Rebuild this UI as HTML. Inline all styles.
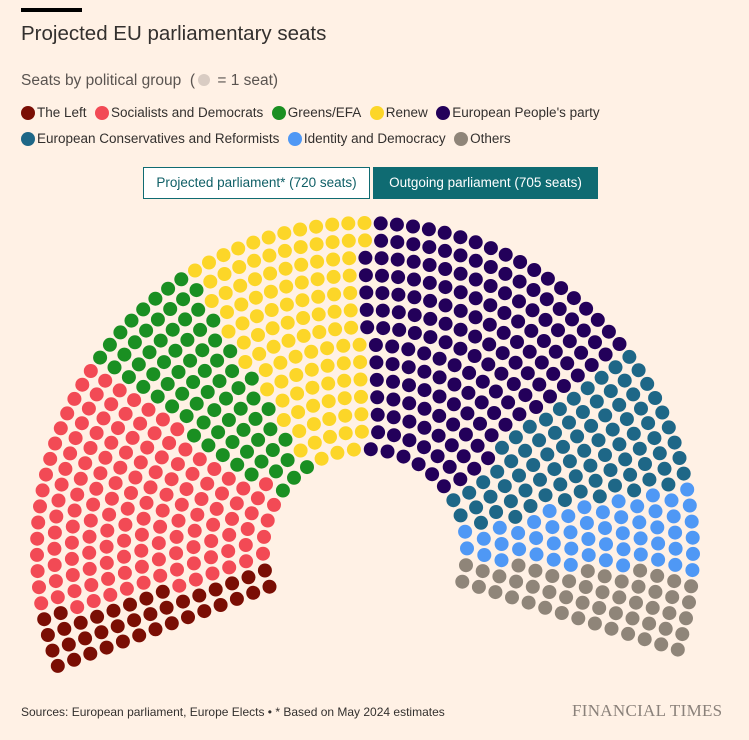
<!DOCTYPE html>
<html><head><meta charset="utf-8">
<style>
body{margin:0;background:#fff1e5;font-family:"Liberation Sans",sans-serif;}
#wrap{position:relative;width:749px;height:740px;overflow:hidden;background:#fff1e5;}
.abs{position:absolute;white-space:nowrap;}
.leg{font-size:13.5px;color:#33302e;display:inline-flex;align-items:center;margin-right:4px;}
.sw{width:14px;height:14px;border-radius:50%;display:inline-block;margin-right:2px;}
</style></head><body>
<div id="wrap">
<div class="abs" style="left:21px;top:8px;width:61px;height:4px;background:#000"></div>
<div class="abs" style="left:21px;top:22px;font-size:20.5px;color:#33302e">Projected EU parliamentary seats</div>
<div class="abs" style="left:21px;top:72px;font-size:15.5px;color:#5a5450">Seats by political group &nbsp;(<span style="display:inline-block;width:12px;height:12px;border-radius:50%;background:#d9ccc3;vertical-align:-1px;margin:0 3px"></span> = 1 seat)</div>
<div class="abs" style="left:21px;top:105px">
<span class="leg"><span class="sw" style="background:#7a0e04"></span>The Left</span>
<span class="leg"><span class="sw" style="background:#f24a55"></span>Socialists and Democrats</span>
<span class="leg"><span class="sw" style="background:#1a8f22"></span>Greens/EFA</span>
<span class="leg"><span class="sw" style="background:#fcd628"></span>Renew</span>
<span class="leg"><span class="sw" style="background:#23005a"></span>European People's party</span>
</div>
<div class="abs" style="left:21px;top:131px">
<span class="leg"><span class="sw" style="background:#1e6787"></span>European Conservatives and Reformists</span>
<span class="leg"><span class="sw" style="background:#4f98f5"></span>Identity and Democracy</span>
<span class="leg"><span class="sw" style="background:#8f8579"></span>Others</span>
</div>
<div class="abs" style="left:143px;top:167px;width:225px;height:30px;border:1px solid #0f6b72;background:#fff;color:#0f5f66;font-size:13.5px;line-height:30px;text-align:center">Projected parliament* (720 seats)</div>
<div class="abs" style="left:373px;top:167px;width:225px;height:32px;background:#0f6b72;color:#fff;font-size:13.5px;line-height:32px;text-align:center">Outgoing parliament (705 seats)</div>
<svg id="chart" class="abs" style="left:0;top:0" width="749" height="740"></svg>
<div class="abs" style="left:21px;top:705px;font-size:12px;color:#33302e">Sources: European parliament, Europe Elects • * Based on May 2024 estimates</div>
<div class="abs" style="left:572px;top:701px;font-family:'Liberation Serif',serif;font-size:17px;color:#8a817a;letter-spacing:0.3px">FINANCIAL TIMES</div>
</div>
<script>
const parties = ["The Left","Socialists and Democrats","Greens/EFA","Renew","European People's party","European Conservatives and Reformists","Identity and Democracy","Others"];
const seats = [38,145,76,106,170,82,53,50];
const colors = ["#7a0e04","#f24a55","#1a8f22","#fcd628","#23005a","#1e6787","#4f98f5","#8f8579"];

const cx=365, cy=551, rIn=102, rOut=328, nRows=14;
const a0=(200.5)*Math.PI/180, a1=(-17.5)*Math.PI/180;
const total=seats.reduce((a,b)=>a+b,0);
const svg=document.getElementById('chart');
const NS='http://www.w3.org/2000/svg';
const radii=[];for(let i=0;i<nRows;i++)radii.push(rIn+(rOut-rIn)*i/(nRows-1));
const sumR=radii.reduce((a,b)=>a+b,0);
let counts=radii.map(r=>Math.round(total*r/sumR));
let diff=total-counts.reduce((a,b)=>a+b,0);
for(let i=nRows-1;diff!==0;i=(i-1+nRows)%nRows){counts[i]+=diff>0?1:-1;diff+=diff>0?-1:1;}
const pts=[];
radii.forEach((r,i)=>{const n=counts[i];for(let k=0;k<n;k++){const t=n>1?k/(n-1):0.5;const a=a0+(a1-a0)*t;pts.push({a:a,x:cx+r*Math.cos(a),y:cy-r*Math.sin(a)});}});
pts.sort((p,q)=>q.a-p.a);
let idx=0;
seats.forEach((s,pi)=>{
  const g=document.createElementNS(NS,'g');
  
  
  for(let k=0;k<s&&idx<pts.length;k++,idx++){
    const c=document.createElementNS(NS,'circle');
    
    
    c.setAttribute('cx',pts[idx].x.toFixed(1));c.setAttribute('cy',pts[idx].y.toFixed(1));
    c.setAttribute('r','7');c.setAttribute('fill',colors[pi]);
    g.appendChild(c);
  }
  svg.appendChild(g);
});
</script>
</body></html>
